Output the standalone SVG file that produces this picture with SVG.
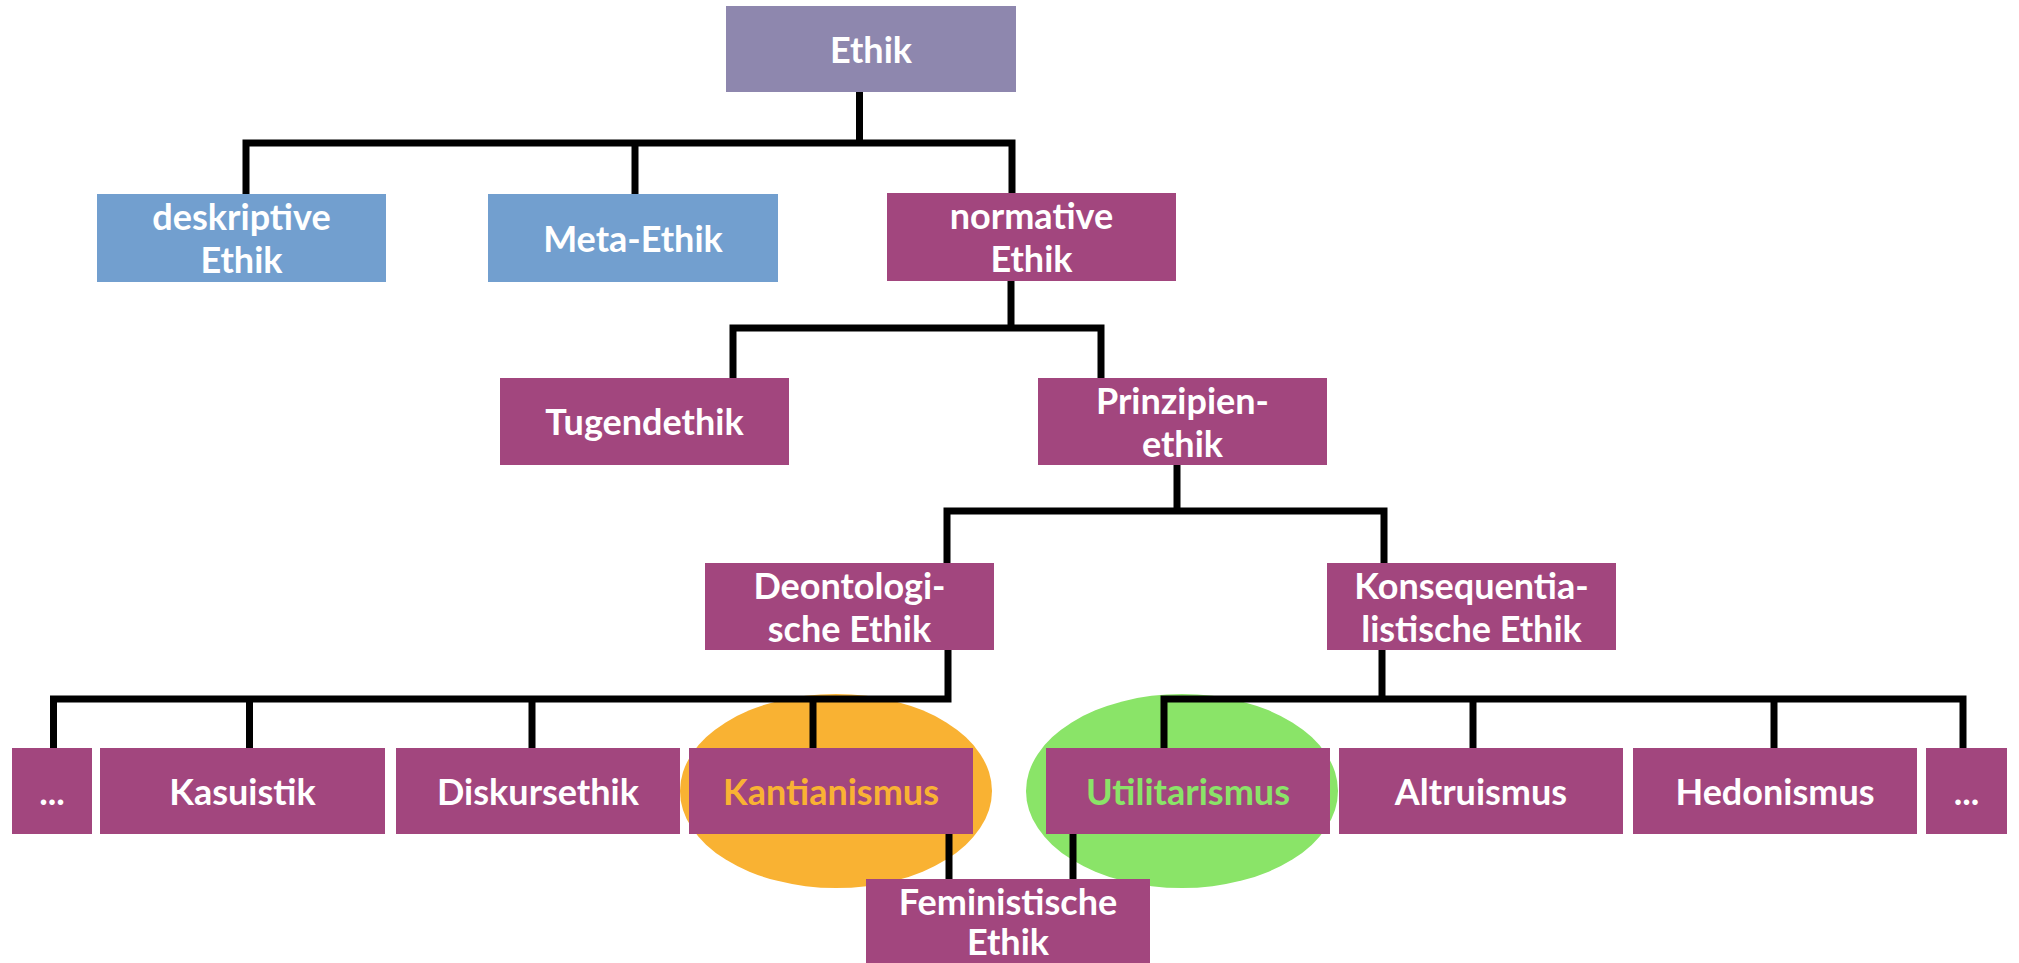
<svg xmlns="http://www.w3.org/2000/svg" width="2019" height="963" viewBox="0 0 2019 963">
<style>
.bg{fill:#ffffff}
.mag{fill:#A2467E}
.blue{fill:#729FCF}
.top{fill:#8E87AE}
.t{font-family:Lato,"Liberation Sans",sans-serif;font-weight:700;font-size:36px;fill:#ffffff;text-anchor:middle}
.conn{fill:none;stroke:#000000;stroke-width:7;stroke-linejoin:miter;stroke-linecap:butt}
</style>
<rect class="bg" x="0" y="0" width="2019" height="963"/>
<g id="highlights">
<ellipse cx="836" cy="791" rx="156" ry="97" fill="#F9B233"/>
<ellipse cx="1182" cy="791" rx="156" ry="97" fill="#8AE468"/>
</g>
<g id="connectors" class="conn">
<path d="M859.5,92 V143"/>
<path d="M246,194 V143 H1012 V193"/>
<path d="M635,143 V194"/>
<path d="M1011,281 V328"/>
<path d="M733,378 V328 H1101 V378"/>
<path d="M1177,465 V511"/>
<path d="M947,563 V511 H1384 V563"/>
<path d="M53.5,748 V699 H948 V650"/>
<path d="M249.5,699 V748"/>
<path d="M532,699 V748"/>
<path d="M813,699 V748"/>
<path d="M1382,650 V699"/>
<path d="M1164,748 V699 H1963 V748"/>
<path d="M1473,699 V748"/>
<path d="M1774,699 V748"/>
<path d="M949,834 V879"/>
<path d="M1073,834 V879"/>
</g>
<g id="n-ethik"><rect class="top" x="726" y="6" width="290" height="86"/><text class="t" x="871" y="63">Ethik</text></g>
<g id="n-deskriptive"><rect class="blue" x="97" y="194" width="289" height="88"/><text class="t" x="241.5" y="230">deskriptive</text><text class="t" x="241.5" y="273">Ethik</text></g>
<g id="n-meta"><rect class="blue" x="488" y="194" width="290" height="88"/><text class="t" x="633" y="251.5">Meta-Ethik</text></g>
<g id="n-normative"><rect class="mag" x="887" y="193" width="289" height="88"/><text class="t" x="1031.5" y="229">normative</text><text class="t" x="1031.5" y="272">Ethik</text></g>
<g id="n-tugend"><rect class="mag" x="500" y="378" width="289" height="87"/><text class="t" x="644.5" y="435">Tugendethik</text></g>
<g id="n-prinzipien"><rect class="mag" x="1038" y="378" width="289" height="87"/><text class="t" x="1182.5" y="414">Prinzipien-</text><text class="t" x="1182.5" y="457">ethik</text></g>
<g id="n-deonto"><rect class="mag" x="705" y="563" width="289" height="87"/><text class="t" x="849.5" y="599">Deontologi-</text><text class="t" x="849.5" y="642">sche Ethik</text></g>
<g id="n-konseq"><rect class="mag" x="1327" y="563" width="289" height="87"/><text class="t" x="1471.5" y="599">Konsequentia-</text><text class="t" x="1471.5" y="642">listische Ethik</text></g>
<g id="n-dots1"><rect class="mag" x="12" y="748" width="80" height="86"/><text class="t" x="52" y="805">...</text></g>
<g id="n-kasuistik"><rect class="mag" x="100" y="748" width="285" height="86"/><text class="t" x="242.5" y="805">Kasuistik</text></g>
<g id="n-diskurs"><rect class="mag" x="396" y="748" width="284" height="86"/><text class="t" x="538" y="805">Diskursethik</text></g>
<g id="n-kant"><rect class="mag" x="689" y="748" width="284" height="86"/><text class="t" x="831" y="805" style="fill:#F9B233">Kantianismus</text></g>
<g id="n-util"><rect class="mag" x="1046" y="748" width="284" height="86"/><text class="t" x="1188" y="805" style="fill:#8AE468">Utilitarismus</text></g>
<g id="n-altru"><rect class="mag" x="1339" y="748" width="284" height="86"/><text class="t" x="1481" y="805">Altruismus</text></g>
<g id="n-hedon"><rect class="mag" x="1633" y="748" width="284" height="86"/><text class="t" x="1775" y="805">Hedonismus</text></g>
<g id="n-dots2"><rect class="mag" x="1926" y="748" width="81" height="86"/><text class="t" x="1966.5" y="805">...</text></g>
<g id="n-femin"><rect class="mag" x="866" y="879" width="284" height="88"/><text class="t" x="1008" y="915">Feministische</text><text class="t" x="1008" y="955">Ethik</text></g>
</svg>
